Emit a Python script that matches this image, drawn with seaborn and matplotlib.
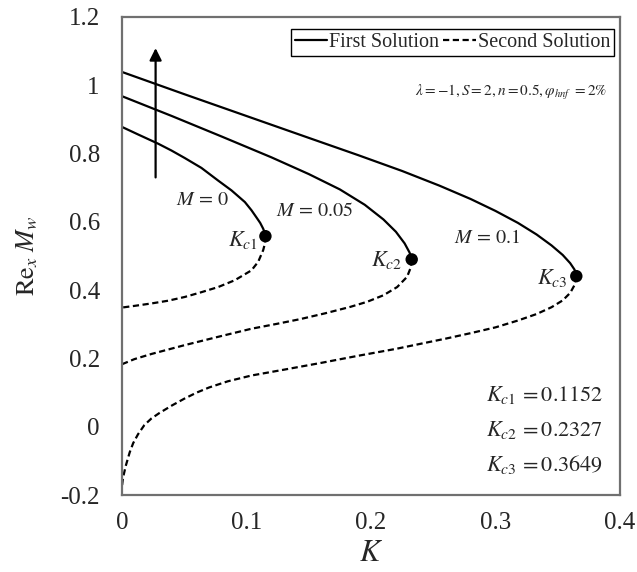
import numpy as np
import pandas as pd
import matplotlib
matplotlib.use("Agg")
import matplotlib.pyplot as plt
import seaborn as sns
from matplotlib.lines import Line2D

# ---------------- data ----------------
# M = 0
k_m0_first = [0.0, 0.0129, 0.029, 0.0397, 0.0504, 0.0638, 0.0772, 0.0880, 0.0987, 0.104, 0.108, 0.111, 0.1134, 0.1147, 0.1152]
y_m0_first = [0.878, 0.856, 0.829, 0.809, 0.787, 0.758, 0.721, 0.692, 0.658, 0.634, 0.613, 0.597, 0.580, 0.568, 0.558]
k_m0_second = [0.1152, 0.1147, 0.1134, 0.1094, 0.104, 0.0906, 0.0772, 0.0638, 0.0504, 0.037, 0.0236, 0.0102, 0.0]
y_m0_second = [0.558, 0.535, 0.517, 0.483, 0.458, 0.429, 0.409, 0.394, 0.380, 0.369, 0.361, 0.354, 0.349]

# M = 0.05
k_m05_first = [0.0, 0.04, 0.08, 0.12, 0.15, 0.175, 0.195, 0.21, 0.22, 0.227, 0.231, 0.2327]
y_m05_first = [0.968, 0.910, 0.850, 0.789, 0.740, 0.695, 0.650, 0.607, 0.571, 0.537, 0.510, 0.490]
k_m05_second = [0.2327, 0.2318, 0.229, 0.221, 0.210, 0.197, 0.1834, 0.163, 0.143, 0.124, 0.104, 0.078, 0.0504, 0.0236, 0.010, 0.0]
y_m05_second = [0.490, 0.465, 0.439, 0.409, 0.385, 0.366, 0.351, 0.332, 0.315, 0.301, 0.287, 0.264, 0.239, 0.213, 0.198, 0.183]

# M = 0.1
k_m1_first = [0.0, 0.05, 0.10, 0.15, 0.19, 0.225, 0.255, 0.28, 0.30, 0.318, 0.333, 0.345, 0.354, 0.360, 0.3635, 0.3649]
y_m1_first = [1.039, 0.974, 0.910, 0.846, 0.795, 0.749, 0.706, 0.667, 0.632, 0.597, 0.563, 0.531, 0.503, 0.479, 0.460, 0.441]
k_m1_second = [0.3649, 0.3635, 0.360, 0.354, 0.345, 0.333, 0.318, 0.30, 0.28, 0.26, 0.24, 0.22, 0.19, 0.16, 0.13,
               0.104, 0.085, 0.070, 0.060, 0.050, 0.040, 0.030, 0.0236, 0.018, 0.0129, 0.009, 0.0062, 0.003, 0.0008, 0.0]
y_m1_second = [0.441, 0.415, 0.392, 0.370, 0.350, 0.330, 0.311, 0.291, 0.274, 0.258, 0.243, 0.228, 0.208, 0.187, 0.167,
               0.150, 0.133, 0.115, 0.100, 0.082, 0.062, 0.040, 0.024, 0.005, -0.022, -0.048, -0.075, -0.115, -0.150, -0.174]

kc_values = [0.1152, 0.2327, 0.3649]
yc_values = [0.558, 0.490, 0.441]
kc_names = [r"$K_{c1}$", r"$K_{c2}$", r"$K_{c3}$"]
m_labels = [r"$M\,=\,0$", r"$M\,=\,0.05$", r"$M\,=\,0.1$"]
x_ticks = [0, 0.1, 0.2, 0.3, 0.4]
x_tick_labels = ["0", "0.1", "0.2", "0.3", "0.4"]
y_ticks = [-0.2, 0, 0.2, 0.4, 0.6, 0.8, 1.0, 1.2]
y_tick_labels = ["-0.2", "0", "0.2", "0.4", "0.6", "0.8", "1", "1.2"]
kc_summary = [r"$K_{c1}\,=0.1152$", r"$K_{c2}\,=0.2327$", r"$K_{c3}\,=0.3649$"]

# ---------------- style ----------------
sns.set_style("white")
plt.rcParams["font.family"] = ["Liberation Serif", "DejaVu Serif"]
plt.rcParams["mathtext.fontset"] = "stix"

fig = plt.figure(figsize=(6.37, 5.72), dpi=100)
ax = fig.add_axes([0.1915, 0.1346, 0.7818, 0.8357])

LW = 1.6
DASH = (0, (2.8, 1.6))

curves = [
    (k_m0_first, y_m0_first, "-"), (k_m0_second, y_m0_second, DASH),
    (k_m05_first, y_m05_first, "-"), (k_m05_second, y_m05_second, DASH),
    (k_m1_first, y_m1_first, "-"), (k_m1_second, y_m1_second, DASH),
]
for kx, yy, ls in curves:
    df = pd.DataFrame({"K": kx, "y": yy})
    sns.lineplot(data=df, x="K", y="y", sort=False, estimator=None, ax=ax,
                 color="black", lw=LW, linestyle=ls)

sns.scatterplot(x=kc_values, y=yc_values, s=80, color="black", edgecolor="none", ax=ax, zorder=5)

ax.set_xlim(0, 0.4)
ax.set_ylim(-0.2, 1.2)
ax.set_xticks(x_ticks)
ax.set_xticklabels(x_tick_labels)
ax.set_yticks(y_ticks)
ax.set_yticklabels(y_tick_labels)
ax.tick_params(axis="both", direction="in", length=5, width=1, color="#707070",
               labelsize=18, top=False, right=False)
ax.tick_params(axis="y", pad=16)
ax.tick_params(axis="x", pad=12)
for sp in ax.spines.values():
    sp.set_color("#707070")
    sp.set_linewidth(1.6)
    sp.set_visible(True)

ax.set_xlabel(r"$K$", fontsize=22)
ax.xaxis.set_label_coords(0.5, -0.093)
ax.set_ylabel(r"$\mathrm{Re}_x\;M_w$", fontsize=19)
ax.yaxis.set_label_coords(-0.165, 0.5)

# legend
handles = [Line2D([], [], color="black", lw=LW, linestyle="-"),
           Line2D([], [], color="black", lw=LW, linestyle=DASH)]
leg = ax.legend(handles, ["First Solution", "Second Solution"], ncol=2,
                loc="upper right", bbox_to_anchor=(0.988, 0.975), fontsize=14.5,
                frameon=True, fancybox=False, edgecolor="black", framealpha=1,
                handlelength=1.6, handletextpad=0.1, columnspacing=0.2,
                borderpad=0.2, borderaxespad=0)
leg.get_frame().set_linewidth(1.0)

ax.text(0.974, 0.843, r"$\lambda=-1,S=2,n=0.5,\varphi_{hnf}\ =2\%$",
        transform=ax.transAxes, ha="right", va="center", fontsize=11)

# M labels
m_pos = [(0.0644, 0.663), (0.1545, 0.629), (0.2934, 0.551)]
for (px, py), lab in zip(m_pos, m_labels):
    ax.text(px, py, lab, ha="center", va="center", fontsize=14.5)

# Kc labels next to dots
kc_pos = [(0.1094, 0.546), (0.225, 0.488), (0.3577, 0.435)]
for (px, py), lab in zip(kc_pos, kc_names):
    ax.text(px, py, lab, ha="right", va="center", fontsize=16)

# summary
for i, lab in enumerate(kc_summary):
    ax.text(0.966, 0.209 - i * 0.073, lab, transform=ax.transAxes,
            ha="right", va="center", fontsize=16)

# arrow
ax.annotate("", xy=(0.027, 1.117), xytext=(0.027, 0.722),
            arrowprops=dict(arrowstyle="-|>", color="black", lw=1.6, mutation_scale=18))

fig.savefig("out.png", dpi=100)
